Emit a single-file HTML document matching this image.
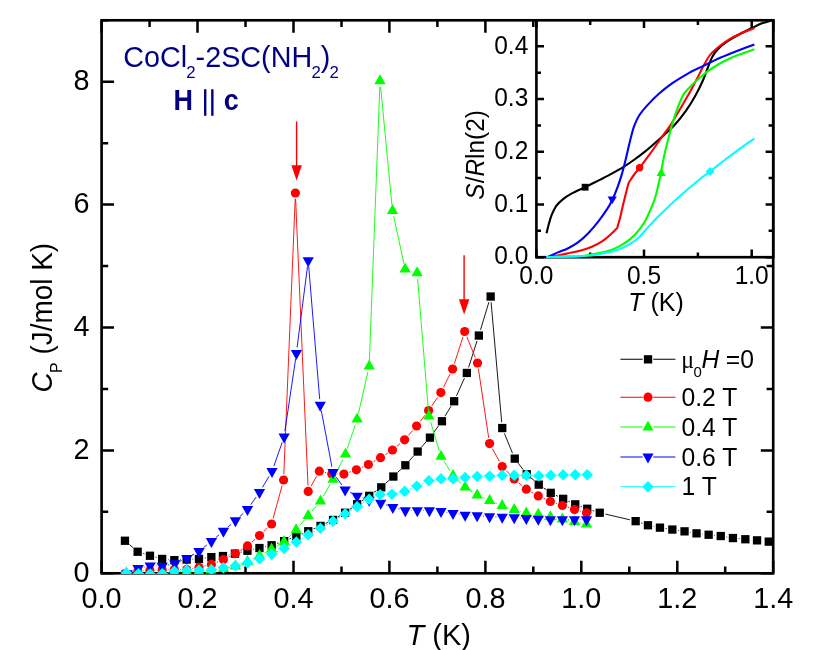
<!DOCTYPE html>
<html><head><meta charset="utf-8"><title>Cp</title>
<style>
html,body{margin:0;padding:0;background:#fff}
body{width:830px;height:650px;position:relative;overflow:hidden;font-family:"Liberation Sans",sans-serif;color:#000}
.t{position:absolute;white-space:nowrap;line-height:0;height:0}
.t::before{content:"";display:inline-block;height:0;width:0}
.sb{font-size:15px;position:relative;top:10px}
.r{position:absolute;white-space:nowrap;line-height:0;height:0;transform-origin:0 0;transform:rotate(-90deg) translateX(-50%)}
</style></head><body>
<svg width="830" height="650" viewBox="0 0 830 650" style="position:absolute;left:0;top:0;will-change:transform" font-family="Liberation Sans, sans-serif" fill="#000">
<rect width="830" height="650" fill="#fff"/>
<defs><clipPath id="cm"><rect x="100.2" y="18.9" width="674.4" height="555.2"/></clipPath><clipPath id="ci"><rect x="536.4" y="18.9" width="238.2" height="239.5"/></clipPath></defs>
<path d="M101.6 573.2v-12.4M101.6 20.3v12.4M149.6 573.2v-6.6M149.6 20.3v6.6M197.5 573.2v-12.4M197.5 20.3v12.4M245.5 573.2v-6.6M245.5 20.3v6.6M293.5 573.2v-12.4M293.5 20.3v12.4M341.5 573.2v-6.6M341.5 20.3v6.6M389.4 573.2v-12.4M389.4 20.3v12.4M437.4 573.2v-6.6M437.4 20.3v6.6M485.4 573.2v-12.4M485.4 20.3v12.4M533.3 573.2v-6.6M533.3 20.3v6.6M581.3 573.2v-12.4M581.3 20.3v12.4M629.3 573.2v-6.6M629.3 20.3v6.6M677.3 573.2v-12.4M677.3 20.3v12.4M725.2 573.2v-6.6M725.2 20.3v6.6M773.2 573.2v-12.4M773.2 20.3v12.4M101.6 573.2h12.4M773.2 573.2h-12.4M101.6 511.8h6.6M773.2 511.8h-6.6M101.6 450.4h12.4M773.2 450.4h-12.4M101.6 388.9h6.6M773.2 388.9h-6.6M101.6 327.5h12.4M773.2 327.5h-12.4M101.6 266.1h6.6M773.2 266.1h-6.6M101.6 204.6h12.4M773.2 204.6h-12.4M101.6 143.2h6.6M773.2 143.2h-6.6M101.6 81.7h12.4M773.2 81.7h-12.4M101.6 20.3h6.6M773.2 20.3h-6.6" stroke="#000" stroke-width="2.5" fill="none"/>
<rect x="101.6" y="20.3" width="671.6" height="553" fill="none" stroke="#000" stroke-width="2.65"/>
<g clip-path="url(#cm)">
<path d="M129.4 544.6L133.3 547.9M143.2 553.5L144.4 553.9M155.5 557.2L156.6 557.4M168 559.5L168.5 559.5M180.1 559.8L180.9 559.8M192.5 559.2L193.2 559.2M204.7 558.1L205.7 557.9M228.6 554.9L229.2 554.7M240.6 552.3L241.8 552M253.2 549.4L253.8 549.3M265.2 546.7L265.9 546.5M277.1 543.4L278.6 542.9M289.5 538.9L290.9 538.3M301.7 533.9L302.8 533.4M313.5 528.9L315.2 528.2M325.7 523.4L327.8 522.4M338 516.9L340.1 515.7M349.8 509.3L352.4 507.6M361.9 500.9L364.4 499.1M373.9 492.4L376.5 490.7M385.5 483.4L389 480.4M397.5 472.5L401.1 469.2M409.2 460.9L413.7 455.8M421.4 447.2L426.1 441.9M433.3 432.9L438.5 425.9M444.9 416.2L451.1 406.2M456.5 395.9L464.4 378.2M468.6 367.4L477 341M480.5 329.9L488.9 302.1M491.1 302.3L501.7 422.2M504.4 433.4L512.5 453.2M518.2 463.2L523.2 469.6M531.1 478L534.4 480.8M543.6 487.9L546 489.5M556 495.3L557.9 496.3M568.4 501.2L569.9 501.9M580.6 506.3L581.8 506.7M592.7 510.5L594.2 511M605.4 514.1L629.9 519.8M641.1 522.9L642.4 523.4M653.6 526.3L654.2 526.5M665.6 528.5L666.7 528.6M678.1 530.4L678.8 530.5M690.2 532.4L690.8 532.4M702.3 534.1L702.8 534.1M714.4 535.4L715 535.4M726.5 536.9L727.2 537.1M738.7 538.6L739.6 538.6" stroke="#000" stroke-width="0.9" fill="none"/>
<rect x="120.8" y="536.6" width="8.3" height="8.3" fill="#000"/><rect x="133.5" y="547.6" width="8.3" height="8.3" fill="#000"/><rect x="145.8" y="551.6" width="8.3" height="8.3" fill="#000"/><rect x="158" y="554.8" width="8.3" height="8.3" fill="#000"/><rect x="170.2" y="556" width="8.3" height="8.3" fill="#000"/><rect x="182.5" y="555.4" width="8.3" height="8.3" fill="#000"/><rect x="194.8" y="554.8" width="8.3" height="8.3" fill="#000"/><rect x="207.2" y="553" width="8.3" height="8.3" fill="#000"/><rect x="218.8" y="551.9" width="8.3" height="8.3" fill="#000"/><rect x="230.8" y="549.5" width="8.3" height="8.3" fill="#000"/><rect x="243.3" y="546.6" width="8.3" height="8.3" fill="#000"/><rect x="255.3" y="543.9" width="8.3" height="8.3" fill="#000"/><rect x="267.5" y="541.1" width="8.3" height="8.3" fill="#000"/><rect x="280" y="537" width="8.3" height="8.3" fill="#000"/><rect x="292.2" y="532" width="8.3" height="8.3" fill="#000"/><rect x="304.1" y="527.1" width="8.3" height="8.3" fill="#000"/><rect x="316.4" y="521.8" width="8.3" height="8.3" fill="#000"/><rect x="328.9" y="515.8" width="8.3" height="8.3" fill="#000"/><rect x="341" y="508.6" width="8.3" height="8.3" fill="#000"/><rect x="353" y="500.1" width="8.3" height="8.3" fill="#000"/><rect x="365.1" y="491.7" width="8.3" height="8.3" fill="#000"/><rect x="377.1" y="483.2" width="8.3" height="8.3" fill="#000"/><rect x="389.2" y="472.4" width="8.3" height="8.3" fill="#000"/><rect x="401.2" y="461.1" width="8.3" height="8.3" fill="#000"/><rect x="413.5" y="447.4" width="8.3" height="8.3" fill="#000"/><rect x="425.8" y="433.5" width="8.3" height="8.3" fill="#000"/><rect x="437.8" y="417.1" width="8.3" height="8.3" fill="#000"/><rect x="450" y="397.1" width="8.3" height="8.3" fill="#000"/><rect x="462.7" y="368.8" width="8.3" height="8.3" fill="#000"/><rect x="474.7" y="331.4" width="8.3" height="8.3" fill="#000"/><rect x="486.5" y="292.4" width="8.3" height="8.3" fill="#000"/><rect x="498.1" y="423.9" width="8.3" height="8.3" fill="#000"/><rect x="510.6" y="454.5" width="8.3" height="8.3" fill="#000"/><rect x="522.6" y="470.1" width="8.3" height="8.3" fill="#000"/><rect x="534.6" y="480.5" width="8.3" height="8.3" fill="#000"/><rect x="546.6" y="488.7" width="8.3" height="8.3" fill="#000"/><rect x="559" y="494.7" width="8.3" height="8.3" fill="#000"/><rect x="571.1" y="500.2" width="8.3" height="8.3" fill="#000"/><rect x="583.1" y="504.6" width="8.3" height="8.3" fill="#000"/><rect x="595.6" y="508.6" width="8.3" height="8.3" fill="#000"/><rect x="631.5" y="517" width="8.3" height="8.3" fill="#000"/><rect x="643.8" y="521.1" width="8.3" height="8.3" fill="#000"/><rect x="655.8" y="523.5" width="8.3" height="8.3" fill="#000"/><rect x="668.2" y="525.4" width="8.3" height="8.3" fill="#000"/><rect x="680.4" y="527.2" width="8.3" height="8.3" fill="#000"/><rect x="692.4" y="529.2" width="8.3" height="8.3" fill="#000"/><rect x="704.5" y="530.6" width="8.3" height="8.3" fill="#000"/><rect x="716.6" y="531.9" width="8.3" height="8.3" fill="#000"/><rect x="728.8" y="533.9" width="8.3" height="8.3" fill="#000"/><rect x="741.2" y="535.1" width="8.3" height="8.3" fill="#000"/><rect x="752.9" y="536.2" width="8.3" height="8.3" fill="#000"/><rect x="764.6" y="537.5" width="8.3" height="8.3" fill="#000"/>
<path d="M131 572.5L132.1 572.3M143.6 570.9L144.1 570.8M155.7 570.1L156.4 570.1M168 569.7L168.5 569.7M180.1 569.6L180.9 569.5M192.4 568.5L193.3 568.4M204.6 566L205.8 565.8M216.8 562.2L218 561.8M228.6 557L230.2 556.2M240.3 550.5L242.6 549M251.9 542.1L255.1 539.3M263.7 531.5L267.4 528M273.1 518.4L282.1 485.6M283.8 474.2L295.2 198.8M295.6 198.8L308 485.6M311 486.3L316.5 476.3M324.9 472.5L326.2 472.8M337.6 474.1L338.1 474.1M349.4 472.2L350.9 471.7M361.7 467.5L363.1 466.8M373.5 461.7L375.4 460.5M385.4 454.6L387.6 453.1M396.9 446.3L400.2 443.5M408.4 435.4L412.8 430.4M420.2 421.4L425 415.2M431.9 405.8L437.5 397.4M443.4 387.4L450 374.2M454.4 363.5L462.9 337M466.9 336.9L475.3 357.6M478.4 368.7L488.7 437.9M492.4 448.7L499.4 461.4M506.2 470.7L510.2 474.8M518.6 482.7L521.9 485.5M531.4 492L533.2 493.1M543.6 498.3L545.1 499M555.9 503.3L556.9 503.6M567.9 507.4L569 507.7M580.1 511.1L580.9 511.3" stroke="#f00" stroke-width="0.9" fill="none"/>
<circle cx="125.3" cy="573.5" r="4.6" fill="#f00"/><circle cx="137.8" cy="571.3" r="4.6" fill="#f00"/><circle cx="149.9" cy="570.4" r="4.6" fill="#f00"/><circle cx="162.2" cy="569.8" r="4.6" fill="#f00"/><circle cx="174.3" cy="569.6" r="4.6" fill="#f00"/><circle cx="186.7" cy="569.5" r="4.6" fill="#f00"/><circle cx="199" cy="567.4" r="4.6" fill="#f00"/><circle cx="211.4" cy="564.4" r="4.6" fill="#f00"/><circle cx="223.4" cy="559.6" r="4.6" fill="#f00"/><circle cx="235.4" cy="553.6" r="4.6" fill="#f00"/><circle cx="247.5" cy="545.9" r="4.6" fill="#f00"/><circle cx="259.5" cy="535.5" r="4.6" fill="#f00"/><circle cx="271.6" cy="524" r="4.6" fill="#f00"/><circle cx="283.6" cy="480" r="4.6" fill="#f00"/><circle cx="295.4" cy="193" r="4.6" fill="#f00"/><circle cx="308.2" cy="491.4" r="4.6" fill="#f00"/><circle cx="319.3" cy="471.2" r="4.6" fill="#f00"/><circle cx="331.8" cy="474.1" r="4.6" fill="#f00"/><circle cx="343.9" cy="474.1" r="4.6" fill="#f00"/><circle cx="356.4" cy="469.8" r="4.6" fill="#f00"/><circle cx="368.4" cy="464.5" r="4.6" fill="#f00"/><circle cx="380.5" cy="457.7" r="4.6" fill="#f00"/><circle cx="392.5" cy="450" r="4.6" fill="#f00"/><circle cx="404.6" cy="439.8" r="4.6" fill="#f00"/><circle cx="416.6" cy="426" r="4.6" fill="#f00"/><circle cx="428.6" cy="410.6" r="4.6" fill="#f00"/><circle cx="440.8" cy="392.6" r="4.6" fill="#f00"/><circle cx="452.6" cy="369" r="4.6" fill="#f00"/><circle cx="464.7" cy="331.5" r="4.6" fill="#f00"/><circle cx="477.5" cy="363" r="4.6" fill="#f00"/><circle cx="489.6" cy="443.6" r="4.6" fill="#f00"/><circle cx="502.2" cy="466.5" r="4.6" fill="#f00"/><circle cx="514.2" cy="479" r="4.6" fill="#f00"/><circle cx="526.3" cy="489.2" r="4.6" fill="#f00"/><circle cx="538.3" cy="495.9" r="4.6" fill="#f00"/><circle cx="550.4" cy="501.4" r="4.6" fill="#f00"/><circle cx="562.4" cy="505.5" r="4.6" fill="#f00"/><circle cx="574.5" cy="509.6" r="4.6" fill="#f00"/><circle cx="586.5" cy="512.8" r="4.6" fill="#f00"/>
<path d="M155.8 573.6L156.4 573.6M168 572.8L168.4 572.8M180 571.9L180.9 571.9M192.5 571.4L193 571.4M204.6 570.7L205 570.7M216.6 569.5L217.6 569.4M229.1 567.5L229.7 567.4M240.8 564.1L242.1 563.7M252.7 559.1L254.3 558.3M264.6 553L266.5 552M276.6 546.3L279.1 544.7M288.3 537.6L291.9 534M299.8 525.5L304.5 520M312 511.1L316.7 505.5M323.4 496L330.1 484.5M335.6 474.3L342.9 459.3M347.3 448.6L355.3 424.8M358.4 413.6L367.9 371.9M369.4 360.5L379.8 86.8M380.6 86.7L391.9 204.8M393.7 216.2L403.9 263.6M410.7 270.9L411.5 271.2M417.6 278.7L428.4 410.4M430.6 421.7L439.3 450.9M444.1 461.4L449.9 470.8M457.2 479.7L460.9 483.2M470 490.3L472.3 491.9M482.5 497.5L484.3 498.3M495 502.8L496.8 503.5M507.7 507.4L508.7 507.8M519.8 511.3L520.7 511.6M532.1 513.8L532.5 513.9M544 515.6L544.7 515.7M556.1 518L556.7 518.1M568.1 520.4L568.8 520.5M580.2 522.8L580.8 522.9" stroke="#0f0" stroke-width="0.9" fill="none"/>
<path d="M120.8 576.6L132.1 576.6L126.4 566.6Z" fill="#0f0"/><path d="M132.5 577L143.8 577L138.2 567Z" fill="#0f0"/><path d="M144.3 577L155.7 577L150 567Z" fill="#0f0"/><path d="M156.5 576.8L167.8 576.8L162.2 566.8Z" fill="#0f0"/><path d="M168.5 575.5L179.8 575.5L174.2 565.5Z" fill="#0f0"/><path d="M181 575L192.3 575L186.7 565Z" fill="#0f0"/><path d="M193.2 574.5L204.5 574.5L198.8 564.5Z" fill="#0f0"/><path d="M205.2 573.5L216.5 573.5L210.8 563.5Z" fill="#0f0"/><path d="M217.8 572L229.1 572L223.4 562Z" fill="#0f0"/><path d="M229.8 569.5L241.1 569.5L235.4 559.5Z" fill="#0f0"/><path d="M241.8 565L253.2 565L247.5 555Z" fill="#0f0"/><path d="M253.8 559L265.1 559L259.5 549Z" fill="#0f0"/><path d="M266 552.6L277.2 552.6L271.6 542.6Z" fill="#0f0"/><path d="M278.5 545L289.8 545L284.1 535Z" fill="#0f0"/><path d="M290.5 533.3L301.8 533.3L296.1 523.3Z" fill="#0f0"/><path d="M302.6 518.9L313.8 518.9L308.2 508.9Z" fill="#0f0"/><path d="M314.9 504.4L326.1 504.4L320.5 494.4Z" fill="#0f0"/><path d="M327.4 482.8L338.6 482.8L333 472.8Z" fill="#0f0"/><path d="M339.9 457.4L351.1 457.4L345.5 447.4Z" fill="#0f0"/><path d="M351.5 422.6L362.8 422.6L357.1 412.6Z" fill="#0f0"/><path d="M363.6 369.6L374.8 369.6L369.2 359.6Z" fill="#0f0"/><path d="M374.4 84.3L385.6 84.3L380 74.3Z" fill="#0f0"/><path d="M386.9 213.9L398.1 213.9L392.5 203.9Z" fill="#0f0"/><path d="M399.5 272.6L410.8 272.6L405.1 262.6Z" fill="#0f0"/><path d="M411.5 276.2L422.8 276.2L417.1 266.2Z" fill="#0f0"/><path d="M423.2 419.5L434.5 419.5L428.9 409.5Z" fill="#0f0"/><path d="M435.4 459.8L446.6 459.8L441 449.8Z" fill="#0f0"/><path d="M447.4 479.1L458.6 479.1L453 469.1Z" fill="#0f0"/><path d="M459.5 490.5L470.8 490.5L465.1 480.5Z" fill="#0f0"/><path d="M471.6 498.4L482.8 498.4L477.2 488.4Z" fill="#0f0"/><path d="M484 504L495.2 504L489.6 494Z" fill="#0f0"/><path d="M496.6 508.9L507.8 508.9L502.2 498.9Z" fill="#0f0"/><path d="M508.6 513L519.9 513L514.2 503Z" fill="#0f0"/><path d="M520.6 516.6L531.9 516.6L526.3 506.6Z" fill="#0f0"/><path d="M532.6 517.8L543.9 517.8L538.3 507.8Z" fill="#0f0"/><path d="M544.8 520.2L556 520.2L550.4 510.2Z" fill="#0f0"/><path d="M556.8 522.6L568 522.6L562.4 512.6Z" fill="#0f0"/><path d="M568.9 525L580.1 525L574.5 515Z" fill="#0f0"/><path d="M580.9 527.4L592.1 527.4L586.5 517.4Z" fill="#0f0"/>
<path d="M132.3 571.1L132.8 570.9M143.8 567.2L144.5 567M156 565.9L156.4 565.9M167.9 564.9L169.1 564.7M180.1 561.3L181.6 560.6M191.9 555.3L194 554.1M203.5 547.6L206.9 544.9M215.8 537.6L219 534.8M227.8 527.2L231 524.4M239.6 516.7L243.3 513.3M250.8 504.6L256.2 497M262.5 487.3L269 476.4M273.9 466L282.2 442.4M284.9 431.2L295.6 359M297.1 347.5L307.5 266.4M308.7 266.4L319.7 399.2M321.3 410.7L331.9 466.7M336.3 477.2L341.8 485M350.2 492.4L352 493.3M362.6 497.9L363.7 498.3M386.2 505L387.3 505.4M398.4 508.8L399.7 509.1M411.1 510.5L411.5 510.5M423.1 510.5L423.6 510.5M446.7 512.4L447.3 512.5M458.7 514.2L459.4 514.3M470.9 515.4L471.3 515.4M482.9 516.1L483.8 516.2M495.4 516.9L496.4 516.9M508 517.4L508.4 517.4M520 518L520.5 518M532.1 518.7L532.5 518.7M544.1 519.3L544.6 519.3M556.2 519.5L556.6 519.5M568.2 519.5L568.7 519.5M580.3 519.5L580.7 519.5" stroke="#00f" stroke-width="0.9" fill="none"/>
<path d="M121.3 570.2L132.7 570.2L127 580.2Z" fill="#00f"/><path d="M132.4 565.1L143.8 565.1L138.1 575.1Z" fill="#00f"/><path d="M144.5 562.4L155.8 562.4L150.2 572.4Z" fill="#00f"/><path d="M156.5 562.7L167.8 562.7L162.2 572.7Z" fill="#00f"/><path d="M169.2 560.3L180.5 560.3L174.8 570.3Z" fill="#00f"/><path d="M181.2 554.9L192.6 554.9L186.9 564.9Z" fill="#00f"/><path d="M193.3 547.9L204.7 547.9L199 557.9Z" fill="#00f"/><path d="M205.8 538L217.1 538L211.4 548Z" fill="#00f"/><path d="M217.8 527.7L229.1 527.7L223.4 537.7Z" fill="#00f"/><path d="M229.8 517.3L241.1 517.3L235.4 527.3Z" fill="#00f"/><path d="M241.8 506L253.2 506L247.5 516Z" fill="#00f"/><path d="M253.8 488.9L265.1 488.9L259.5 498.9Z" fill="#00f"/><path d="M266.4 468.1L277.6 468.1L272 478.1Z" fill="#00f"/><path d="M278.5 433.6L289.8 433.6L284.1 443.6Z" fill="#00f"/><path d="M290.8 349.9L302 349.9L296.4 359.9Z" fill="#00f"/><path d="M302.6 257.3L313.8 257.3L308.2 267.3Z" fill="#00f"/><path d="M314.6 401.7L325.8 401.7L320.2 411.7Z" fill="#00f"/><path d="M327.4 469.1L338.6 469.1L333 479.1Z" fill="#00f"/><path d="M339.5 486.4L350.8 486.4L345.1 496.4Z" fill="#00f"/><path d="M351.5 492.7L362.8 492.7L357.1 502.7Z" fill="#00f"/><path d="M363.6 496.8L374.8 496.8L369.2 506.8Z" fill="#00f"/><path d="M375.1 499.7L386.3 499.7L380.7 509.7Z" fill="#00f"/><path d="M387.2 504L398.4 504L392.8 514Z" fill="#00f"/><path d="M399.7 507.2L410.9 507.2L405.3 517.2Z" fill="#00f"/><path d="M411.7 507.2L422.9 507.2L417.3 517.2Z" fill="#00f"/><path d="M423.8 507.2L435 507.2L429.4 517.2Z" fill="#00f"/><path d="M435.4 508.1L446.6 508.1L441 518.1Z" fill="#00f"/><path d="M447.4 510.1L458.6 510.1L453 520.1Z" fill="#00f"/><path d="M459.5 511.8L470.8 511.8L465.1 521.8Z" fill="#00f"/><path d="M471.5 512.3L482.8 512.3L477.1 522.3Z" fill="#00f"/><path d="M484 513.3L495.2 513.3L489.6 523.3Z" fill="#00f"/><path d="M496.6 513.8L507.8 513.8L502.2 523.8Z" fill="#00f"/><path d="M508.6 514.3L519.9 514.3L514.2 524.3Z" fill="#00f"/><path d="M520.6 515L531.9 515L526.3 525Z" fill="#00f"/><path d="M532.6 515.7L543.9 515.7L538.3 525.7Z" fill="#00f"/><path d="M544.8 516.2L556 516.2L550.4 526.2Z" fill="#00f"/><path d="M556.8 516.2L568 516.2L562.4 526.2Z" fill="#00f"/><path d="M568.9 516.2L580.1 516.2L574.5 526.2Z" fill="#00f"/><path d="M580.9 516.2L592.1 516.2L586.5 526.2Z" fill="#00f"/>
<path d="M132.2 573.3L132.7 573.4M156 573.9L156.5 573.8M168 572.6L168.6 572.4M180.1 570.8L180.9 570.8M192.5 570.3L193.2 570.3M204.8 570L205.6 570M217.1 568.7L217.7 568.6M229.1 566.7L229.7 566.6M241 564.3L241.9 564.2M253 561L254 560.7M264.9 556.8L266.2 556.2M276.9 551.7L278.8 550.9M289.2 545.8L291.2 544.7M301.3 539L303.2 537.8M313.3 532.1L315.4 531M325.5 525.4L328 524M338 518.1L340.1 516.9M350.1 510.9L352.1 509.6M362.1 503.6L364.2 502.4M374.5 497.1L374.9 496.9M397.7 492.9L398.9 492.6M409.9 489.1L411.6 488.4M422.2 483.8L423.6 483.1M434.6 479.9L435.3 479.8M446.8 478.9L447.2 478.9M458.8 478.2L459.4 478.2M471 477L471.4 477M483 476.3L483.8 476.3M495.4 475.8L496.4 475.7M508 475.4L508.4 475.4M520 475.4L520.5 475.4M532.1 475.6L533 475.7M544.6 475.7L545 475.6M556.6 475.2L557.3 475.1M568.9 474.8L569.4 474.8M581 474.7L581.4 474.7" stroke="#0ff" stroke-width="0.9" fill="none"/>
<path d="M120.7 573L126.4 567.2L132.2 573L126.4 578.8Z" fill="#0ff"/><path d="M132.8 573.7L138.5 568L144.2 573.7L138.5 579.5Z" fill="#0ff"/><path d="M144.4 574L150.2 568.2L155.9 574L150.2 579.8Z" fill="#0ff"/><path d="M156.6 573.7L162.3 568L168.1 573.7L162.3 579.5Z" fill="#0ff"/><path d="M168.6 571.3L174.3 565.5L180.1 571.3L174.3 577Z" fill="#0ff"/><path d="M180.9 570.3L186.7 564.5L192.4 570.3L186.7 576Z" fill="#0ff"/><path d="M193.2 570.3L199 564.5L204.8 570.3L199 576Z" fill="#0ff"/><path d="M205.7 569.7L211.4 564L217.2 569.7L211.4 575.5Z" fill="#0ff"/><path d="M217.7 567.6L223.4 561.9L229.2 567.6L223.4 573.4Z" fill="#0ff"/><path d="M229.7 565.7L235.4 560L241.2 565.7L235.4 571.5Z" fill="#0ff"/><path d="M241.8 562.8L247.5 557L253.2 562.8L247.5 568.5Z" fill="#0ff"/><path d="M253.8 558.9L259.5 553.1L265.2 558.9L259.5 564.6Z" fill="#0ff"/><path d="M265.9 554.1L271.6 548.4L277.4 554.1L271.6 559.9Z" fill="#0ff"/><path d="M278.4 548.5L284.1 542.8L289.9 548.5L284.1 554.2Z" fill="#0ff"/><path d="M290.6 542L296.3 536.2L302.1 542L296.3 547.8Z" fill="#0ff"/><path d="M302.4 534.8L308.2 529L313.9 534.8L308.2 540.5Z" fill="#0ff"/><path d="M314.8 528.3L320.5 522.5L326.2 528.3L320.5 534Z" fill="#0ff"/><path d="M327.2 521.1L333 515.4L338.8 521.1L333 526.9Z" fill="#0ff"/><path d="M339.4 513.9L345.1 508.1L350.9 513.9L345.1 519.6Z" fill="#0ff"/><path d="M351.4 506.6L357.1 500.9L362.9 506.6L357.1 512.4Z" fill="#0ff"/><path d="M363.4 499.4L369.2 493.6L374.9 499.4L369.2 505.1Z" fill="#0ff"/><path d="M374.4 494.6L380.2 488.9L385.9 494.6L380.2 500.4Z" fill="#0ff"/><path d="M386.2 494.1L392 488.4L397.8 494.1L392 499.9Z" fill="#0ff"/><path d="M398.9 491.4L404.6 485.6L410.4 491.4L404.6 497.1Z" fill="#0ff"/><path d="M411.1 486.1L416.9 480.4L422.6 486.1L416.9 491.9Z" fill="#0ff"/><path d="M423.1 480.8L428.9 475.1L434.6 480.8L428.9 486.6Z" fill="#0ff"/><path d="M435.2 478.9L441 473.1L446.8 478.9L441 484.6Z" fill="#0ff"/><path d="M447.2 478.9L453 473.1L458.8 478.9L453 484.6Z" fill="#0ff"/><path d="M459.4 477.5L465.2 471.8L470.9 477.5L465.2 483.2Z" fill="#0ff"/><path d="M471.4 476.5L477.2 470.8L482.9 476.5L477.2 482.2Z" fill="#0ff"/><path d="M483.9 476.1L489.6 470.4L495.4 476.1L489.6 481.9Z" fill="#0ff"/><path d="M496.4 475.4L502.2 469.6L507.9 475.4L502.2 481.1Z" fill="#0ff"/><path d="M508.5 475.4L514.2 469.6L520 475.4L514.2 481.1Z" fill="#0ff"/><path d="M520.5 475.4L526.3 469.6L532 475.4L526.3 481.1Z" fill="#0ff"/><path d="M533 475.9L538.8 470.1L544.5 475.9L538.8 481.6Z" fill="#0ff"/><path d="M545 475.4L550.8 469.6L556.5 475.4L550.8 481.1Z" fill="#0ff"/><path d="M557.4 474.9L563.1 469.1L568.9 474.9L563.1 480.6Z" fill="#0ff"/><path d="M569.5 474.7L575.2 468.9L581 474.7L575.2 480.4Z" fill="#0ff"/><path d="M581.5 474.7L587.2 468.9L593 474.7L587.2 480.4Z" fill="#0ff"/>
</g>
<path d="M296.6 121.4V166.3" stroke="#f00" stroke-width="1.4" fill="none"/><path d="M291.4 165.3L301.9 165.3L296.6 180.6Z" fill="#f00"/>
<path d="M464.1 255.3V300.3" stroke="#f00" stroke-width="1.4" fill="none"/><path d="M458.9 299.3L469.4 299.3L464.1 314.6Z" fill="#f00"/>
<rect x="536.4" y="20.3" width="236.8" height="236.9" fill="#fff"/>
<path d="M536.4 257.2v-7.6M536.4 20.3v7.6M590.2 257.2v-4.6M590.2 20.3v4.6M644 257.2v-7.6M644 20.3v7.6M697.9 257.2v-4.6M697.9 20.3v4.6M751.7 257.2v-7.6M751.7 20.3v7.6M536.4 257.2h7.6M773.2 257.2h-7.6M536.4 230.8h4.6M773.2 230.8h-4.6M536.4 204.5h7.6M773.2 204.5h-7.6M536.4 178.1h4.6M773.2 178.1h-4.6M536.4 151.8h7.6M773.2 151.8h-7.6M536.4 125.4h4.6M773.2 125.4h-4.6M536.4 99h7.6M773.2 99h-7.6M536.4 72.7h4.6M773.2 72.7h-4.6M536.4 46.3h7.6M773.2 46.3h-7.6" stroke="#000" stroke-width="2.5" fill="none"/>
<rect x="536.4" y="20.3" width="236.8" height="236.9" fill="none" stroke="#000" stroke-width="2.65"/>
<g clip-path="url(#ci)">
<path d="M546.5 233.3C546.9 231.8 547.9 227.5 548.7 224.5C549.6 221.5 550.3 218.3 551.6 215.2C552.9 212.1 554.4 208.6 556.3 205.9C558.2 203.2 560.6 201.1 563.1 199.1C565.6 197.1 567.8 195.7 571.5 193.7C575.2 191.7 580.3 189.5 585.1 187.2C589.9 184.8 595.8 181.9 600.3 179.6C604.8 177.3 608.2 175.6 612.2 173.4C616.2 171.2 620 169.1 624 166.6C628 164.1 632.1 161.3 635.9 158.5C639.7 155.7 644.1 152.2 646.9 150C649.7 147.8 649.6 147.7 652.5 145.2C655.4 142.7 660.2 138.4 664 135C667.8 131.6 671.4 128.4 675 124.5C678.6 120.6 682.1 116.2 685.5 111.4C688.9 106.7 692.3 101.2 695.2 96C698.1 90.8 700.8 85.2 702.9 80.5C705 75.8 706.1 72 707.7 68C709.3 64 710.7 59.6 712.5 56.4C714.3 53.2 715.7 51.3 718.3 48.7C720.9 46.1 724.5 43.4 728 41C731.5 38.6 735.3 36.5 739.5 34.3C743.7 32 749.1 29.4 753 27.5C756.9 25.6 759.3 24.4 762.7 23.1C766.1 21.8 771.5 20.4 773.3 19.8" stroke="#000" stroke-width="2.1" fill="none" stroke-linejoin="round"/>
<path d="M546.3 257C547.4 256.9 549.5 257.2 552.9 256.6C556.3 256 562 254.6 566.5 253.6C571 252.6 575.8 251.8 580 250.7C584.2 249.6 588.2 248.4 591.9 246.8C595.6 245.2 598.9 243.4 602 241.4C605.1 239.4 608 236.8 610.5 234.6C613 232.3 616.1 229 617.2 227.9C617.7 226.2 619.1 221.6 620.1 217.7C621.1 213.8 622.1 208.7 623.2 204.2C624.3 199.7 625.7 194.2 626.6 190.6C627.5 187 628.4 183.8 628.8 182.5C629.7 181.2 632.4 176.9 634.2 174.5C636 172.1 637.4 170.8 639.6 167.8C641.9 164.9 645.5 159.8 647.7 156.8C649.9 153.8 650.1 153.8 652.8 150C655.5 146.2 661 138.2 664 134C667 129.8 667.9 129.2 670.5 125.1C673.1 121 676.6 114.8 679.8 109.5C682.9 104.2 686.5 98.2 689.4 93.1C692.3 87.9 694.9 82.9 697.1 78.6C699.4 74.2 700.8 70.8 702.9 67C705 63.1 707.4 58.5 709.6 55.5C711.9 52.5 713.3 51.3 716.4 48.7C719.5 46.1 723.8 42.7 728 40.1C732.2 37.5 737 35.3 741.4 33.3C745.8 31.3 752.2 29 754.4 28.1" stroke="#f00" stroke-width="2.1" fill="none" stroke-linejoin="round"/>
<path d="M546.3 257C551.6 256.9 570.1 256.9 578.3 256.4C586.4 255.9 590.1 254.8 595.2 253.9C600.3 253 604.6 252.2 608.8 250.8C613 249.4 616.9 247.6 620.6 245.6C624.3 243.6 627.7 241.3 630.8 238.6C633.9 235.9 636.8 232.8 639.3 229.6C641.8 226.4 643.8 223.6 646 219.4C648.2 215.2 651.1 208.4 652.8 204.2C654.5 200 655.2 197.7 656.2 194C657.2 190.3 658.2 185.5 659 182C659.8 178.5 660.3 176.7 661 173C661.7 169.3 662.5 163.8 663.3 160C664 156.2 664.2 155.2 665.5 150C666.8 144.8 669.2 135 671 128.5C672.8 122 674.9 115.8 676.5 111C678.1 106.2 679.5 103 680.8 100C682.1 97 682.6 95.6 684.4 93.2C686.1 90.8 688.5 88.2 691.3 85.4C694.1 82.7 697.5 79.6 701 76.7C704.5 73.8 708.3 70.7 712.5 68C716.7 65.3 721.5 62.5 726 60.3C730.5 58 734.8 56.3 739.5 54.5C744.2 52.7 751.9 50.2 754.4 49.3" stroke="#0f0" stroke-width="2.1" fill="none" stroke-linejoin="round"/>
<path d="M546.3 257C546.7 256.9 546.8 257.4 548.7 256.6C550.7 255.8 554.8 253.8 558 252.4C561.2 251 564.8 249.9 568.2 248.2C571.6 246.5 574.9 244.8 578.3 242.2C581.7 239.6 585.1 236.4 588.5 232.9C591.9 229.4 595.5 225.1 598.6 221.1C601.7 217.1 604.8 212.7 607.1 209.2C609.4 205.7 610.5 203.4 612.2 199.9C613.9 196.4 615.7 192.2 617.2 188.1C618.8 184 620.2 179.6 621.5 175.4C622.8 171.2 623.8 166.9 624.9 162.7C626 158.5 626.9 154.3 627.9 150C628.9 145.7 629.9 141.2 631 137C632.1 132.8 633.1 128.7 634.5 125.1C635.9 121.5 637.2 118.5 639.3 115.2C641.4 112 643.8 109.1 647 105.6C650.2 102.1 654.4 97.7 658.6 94C662.8 90.3 667.2 86.8 672 83.4C676.8 80 682.4 76.7 687.5 73.8C692.6 70.9 697.4 68.8 702.9 66.1C708.4 63.4 714.4 60.4 720.2 57.8C726 55.2 731.9 52.9 737.6 50.7C743.3 48.5 751.6 45.5 754.4 44.5" stroke="#00f" stroke-width="2.1" fill="none" stroke-linejoin="round"/>
<path d="M546.3 257C553 256.8 577.2 256.4 586.8 255.8C596.4 255.2 598.6 254.2 603.7 253.2C608.8 252.2 613.1 251.3 617.2 249.9C621.3 248.5 625 246.7 628.5 244.8C632 242.9 635.2 240.8 638 238.3C640.8 235.8 643 232.7 645.5 230C648 227.3 650.6 224.6 653 222C655.4 219.4 655.5 219 660 214.7C664.5 210.4 673.3 201.9 680 196C686.7 190.1 695 183.1 700 179C705 174.9 705.7 174.9 710 171.6C714.3 168.3 721 162.8 726 159C731 155.2 735.3 152 740 148.6C744.7 145.2 752 140.3 754.4 138.6" stroke="#0ff" stroke-width="2.1" fill="none" stroke-linejoin="round"/>
</g>
<rect x="581.7" y="183.8" width="6.8" height="6.8" fill="#000"/>
<circle cx="639.6" cy="167.8" r="3.7" fill="#f00"/>
<path d="M656.6 175.9L665.8 175.9L661.2 168.1Z" fill="#0f0"/>
<path d="M607.6 196.5L616.8 196.5L612.2 204.3Z" fill="#00f"/>
<path d="M705.6 171.6L710.1 167.1L714.6 171.6L710.1 176.1Z" fill="#0ff"/>
<path d="M620.4 359.3H642.7M653.3 359.3H675.4" stroke="#000" stroke-width="1.1"/>
<rect x="643.9" y="355.2" width="8.3" height="8.3" fill="#000"/>
<path d="M620.4 397.2H642.7M653.3 397.2H675.4" stroke="#f00" stroke-width="1.1"/>
<circle cx="648" cy="397.2" r="4.6" fill="#f00"/>
<path d="M620.4 427H642.7M653.3 427H675.4" stroke="#0f0" stroke-width="1.1"/>
<path d="M642.4 430.4L653.6 430.4L648 420.4Z" fill="#0f0"/>
<path d="M620.4 457H642.7M653.3 457H675.4" stroke="#00f" stroke-width="1.1"/>
<path d="M642.4 453.6L653.6 453.6L648 463.6Z" fill="#00f"/>
<path d="M620.4 486.8H642.7M653.3 486.8H675.4" stroke="#0ff" stroke-width="1.1"/>
<path d="M642.2 486.8L648 481.1L653.8 486.8L648 492.6Z" fill="#0ff"/>
<text transform="translate(101.6 608.4) scale(1 1.035)" font-size="28.8" text-anchor="middle" >0.0</text>
<text transform="translate(197.5 608.4) scale(1 1.035)" font-size="28.8" text-anchor="middle" >0.2</text>
<text transform="translate(293.5 608.4) scale(1 1.035)" font-size="28.8" text-anchor="middle" >0.4</text>
<text transform="translate(389.4 608.4) scale(1 1.035)" font-size="28.8" text-anchor="middle" >0.6</text>
<text transform="translate(485.4 608.4) scale(1 1.035)" font-size="28.8" text-anchor="middle" >0.8</text>
<text transform="translate(581.3 608.4) scale(1 1.035)" font-size="28.8" text-anchor="middle" >1.0</text>
<text transform="translate(677.3 608.4) scale(1 1.035)" font-size="28.8" text-anchor="middle" >1.2</text>
<text transform="translate(773.2 608.4) scale(1 1.035)" font-size="28.8" text-anchor="middle" >1.4</text>
<text transform="translate(89.5 582) scale(1 1.035)" font-size="28.8" text-anchor="end" >0</text>
<text transform="translate(89.5 459.1) scale(1 1.035)" font-size="28.8" text-anchor="end" >2</text>
<text transform="translate(89.5 336.2) scale(1 1.035)" font-size="28.8" text-anchor="end" >4</text>
<text transform="translate(89.5 213.3) scale(1 1.035)" font-size="28.8" text-anchor="end" >6</text>
<text transform="translate(89.5 90.4) scale(1 1.035)" font-size="28.8" text-anchor="end" >8</text>
<text transform="translate(438.8 644.6) scale(1 1.035)" font-size="29" text-anchor="middle" ><tspan font-style="italic">T</tspan> (K)</text>
<text transform="translate(536.4 283.6) scale(1 1.035)" font-size="24.5" text-anchor="middle" >0.0</text>
<text transform="translate(644 283.6) scale(1 1.035)" font-size="24.5" text-anchor="middle" >0.5</text>
<text transform="translate(751.7 283.6) scale(1 1.035)" font-size="24.5" text-anchor="middle" >1.0</text>
<text transform="translate(528.3 264.4) scale(1 1.035)" font-size="24.5" text-anchor="end" >0.0</text>
<text transform="translate(528.3 211.7) scale(1 1.035)" font-size="24.5" text-anchor="end" >0.1</text>
<text transform="translate(528.3 159) scale(1 1.035)" font-size="24.5" text-anchor="end" >0.2</text>
<text transform="translate(528.3 106.2) scale(1 1.035)" font-size="24.5" text-anchor="end" >0.3</text>
<text transform="translate(528.3 53.5) scale(1 1.035)" font-size="24.5" text-anchor="end" >0.4</text>
<text transform="translate(656.1 311.2) scale(1 1.035)" font-size="25" text-anchor="middle" ><tspan font-style="italic">T</tspan> (K)</text>
<text transform="translate(123.2 67.3) scale(1 1.035)" font-size="28.75" text-anchor="start" fill="#000080">CoCl<tspan font-size="16.8" dy="10.4" dx="-0.8">2</tspan><tspan dy="-10.4">&#8203;</tspan>-2SC(NH<tspan font-size="16.8" dy="10.4" dx="-0.8">2</tspan><tspan dy="-10.4">&#8203;</tspan>)<tspan font-size="16.8" dy="10.4" dx="-0.8">2</tspan><tspan dy="-10.4">&#8203;</tspan></text>
<text transform="translate(173.5 109.7) scale(1 1.065)" font-size="27" font-weight="bold" fill="#000080">H</text>
<text transform="translate(223.8 109.7) scale(1 1.065)" font-size="27" font-weight="bold" fill="#000080">c</text>
<path d="M205.2 89.3V115.7M212.35 89.3V115.7" stroke="#000080" stroke-width="2.4"/>
<text transform="translate(681.2 367.9) scale(1 1.035)" font-size="24.7" text-anchor="start" ><tspan font-family="Liberation Serif, serif" font-size="24">&#956;</tspan><tspan font-size="15" dy="9" dx="-0.6">0</tspan><tspan dy="-9">&#8203;</tspan><tspan font-style="italic" dx="-0.3">H</tspan><tspan dx="-0.4"> =0</tspan></text>
<text transform="translate(681.5 405.9) scale(1 1.035)" font-size="24.7" text-anchor="start" >0.2 T</text>
<text transform="translate(681.5 435.6) scale(1 1.035)" font-size="24.7" text-anchor="start" >0.4 T</text>
<text transform="translate(681.5 465.5) scale(1 1.035)" font-size="24.7" text-anchor="start" >0.6 T</text>
<text transform="translate(681.5 495.4) scale(1 1.035)" font-size="24.7" text-anchor="start" >1 T</text>
<text transform="translate(51.7 317.8) rotate(-90) scale(1 1.075)" font-size="27.9" text-anchor="middle"><tspan font-style="italic">C</tspan><tspan font-size="16" dy="9.4" dx="-0.5">P</tspan><tspan dy="-9.4">&#8203;</tspan> (J/mol K)</text>
<text transform="translate(483.6 154.9) rotate(-90) scale(1 1.035)" font-size="24.4" text-anchor="middle"><tspan font-style="italic">S</tspan>/<tspan font-style="italic">R</tspan>ln(2)</text>
</svg>

</body></html>
